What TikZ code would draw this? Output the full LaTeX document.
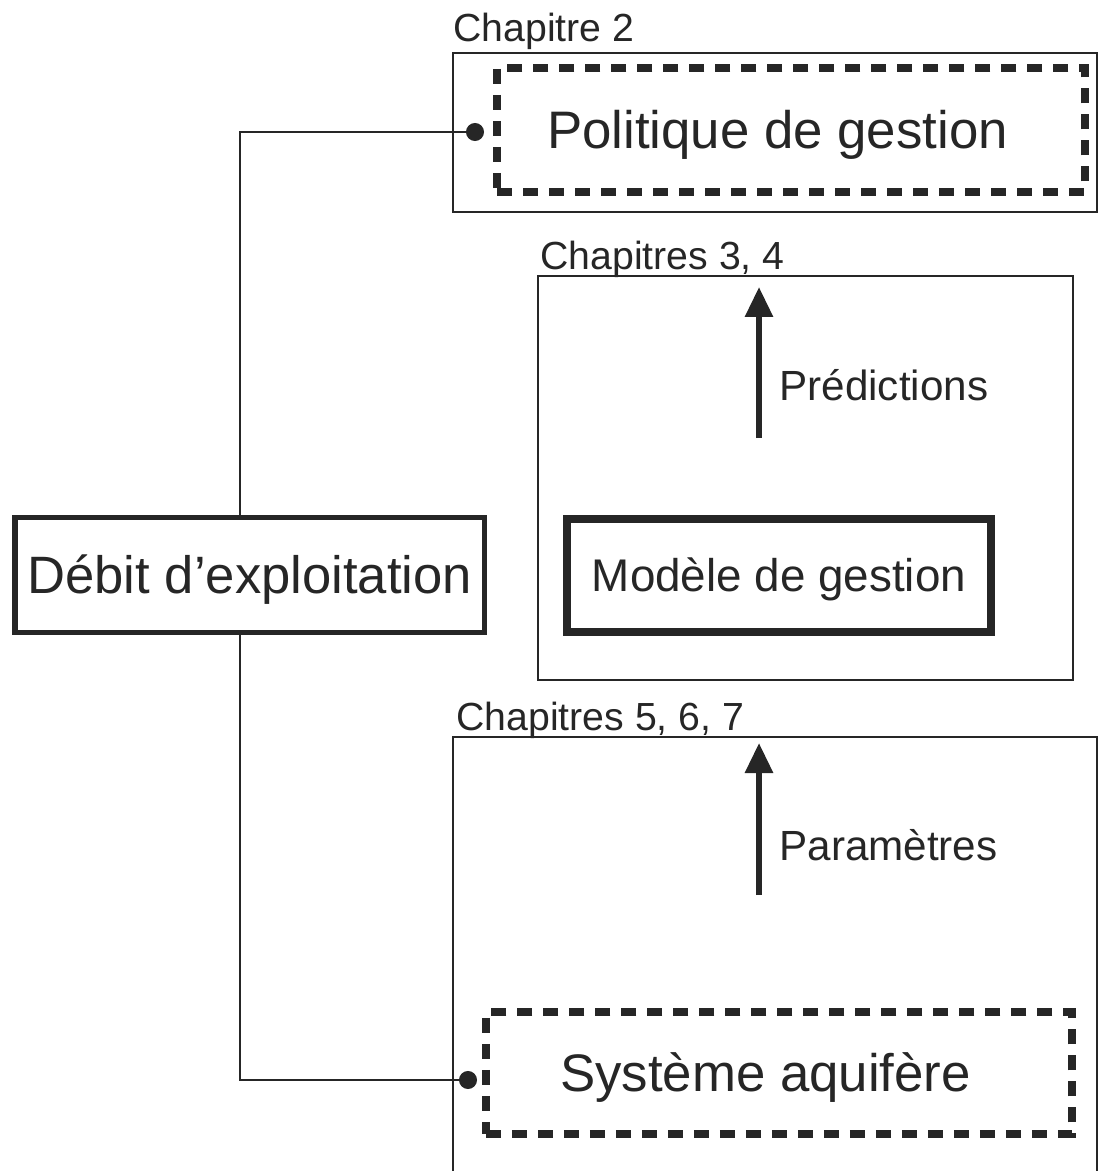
\documentclass[tikz,border=0pt]{standalone}
\usepackage{fontspec}
\setmainfont{Liberation Sans}
\usepackage{tikz}
\usetikzlibrary{arrows.meta}
\tikzstyle{chapbox} = [rectangle, draw=black!85, line width=1.3pt, inner sep=0pt]
\tikzstyle{chaplabel} = [anchor=base west, inner sep=0pt, font=\fontsize{19.6pt}{22pt}\selectfont, text=black!85]
\tikzstyle{dashbox} = [rectangle, draw=black!85, line width=3.8pt, dash pattern=on 7.5pt off 5.5pt, inner sep=0pt, align=flush left, text depth=0pt, text height=18.9pt, font=\fontsize{26.4pt}{30pt}\selectfont, text=black!85]
\tikzstyle{mainbox} = [rectangle, draw=black!85, line width=2.75pt, inner sep=0pt, text depth=0pt, text height=18.9pt, font=\fontsize{26.3pt}{30pt}\selectfont, text=black!85]
\tikzstyle{modelbox} = [rectangle, draw=black!85, line width=4pt, inner sep=0pt, text depth=0pt, text height=16.4pt, font=\fontsize{22.9pt}{26pt}\selectfont, text=black!85]
\tikzstyle{flowlabel} = [anchor=base west, inner sep=0pt, font=\fontsize{21.1pt}{24pt}\selectfont, text=black!85]
\tikzstyle{arrow} = [draw=black!85, line width=3pt, -{Triangle[length=15pt,width=13.5pt]}]
\tikzstyle{link} = [draw=black!85, line width=1pt, -{Circle[length=9pt]}]

\begin{document}
\begin{tikzpicture}[x=0.5pt, y=-0.5pt]
\useasboundingbox (0,0) rectangle (1100,1171);

\node (chap2) [chapbox, minimum width=322pt, minimum height=79.5pt] at (775,132.5) {};
\node (chap2lab) [chaplabel] at (453,42) {Chapitre 2};
\node (politique) [dashbox, text width=244pt, minimum width=293.75pt, minimum height=62pt] at (791,130) {Politique de gestion};

\node (chap34) [chapbox, minimum width=267.5pt, minimum height=202pt] at (805.5,478) {};
\node (chap34lab) [chaplabel] at (540,270) {Chapitres 3, 4};
\node (modele) [modelbox, minimum width=212pt, minimum height=56.5pt] at (779,575.5) {Modèle de gestion};
\coordinate (predA) at (759,438);
\coordinate (predB) at (759,287);
\draw [arrow] (predA) -- (predB);
\node (predlab) [flowlabel] at (779,400) {Prédictions};

\node (chap567) [chapbox, minimum width=322pt, minimum height=224pt] at (775,961) {};
\node (chap567lab) [chaplabel] at (456,730) {Chapitres 5, 6, 7};
\node (systeme) [dashbox, text width=219pt, minimum width=293.25pt, minimum height=60.75pt] at (779,1073) {Système aquifère};
\coordinate (paramA) at (759,895);
\coordinate (paramB) at (759,743);
\draw [arrow] (paramA) -- (paramB);
\node (paramlab) [flowlabel] at (779,860) {Paramètres};

\node (debit) [mainbox, minimum width=234.75pt, minimum height=57.5pt] at (249.75,575) {Débit d’exploitation};
\coordinate (pinA) at (484,132);
\coordinate (pinB) at (477,1080);
\draw [link] ([xshift=-4.875pt]debit.north) |- (pinA);
\draw [link] ([xshift=-4.875pt]debit.south) |- (pinB);
\end{tikzpicture}
\end{document}
